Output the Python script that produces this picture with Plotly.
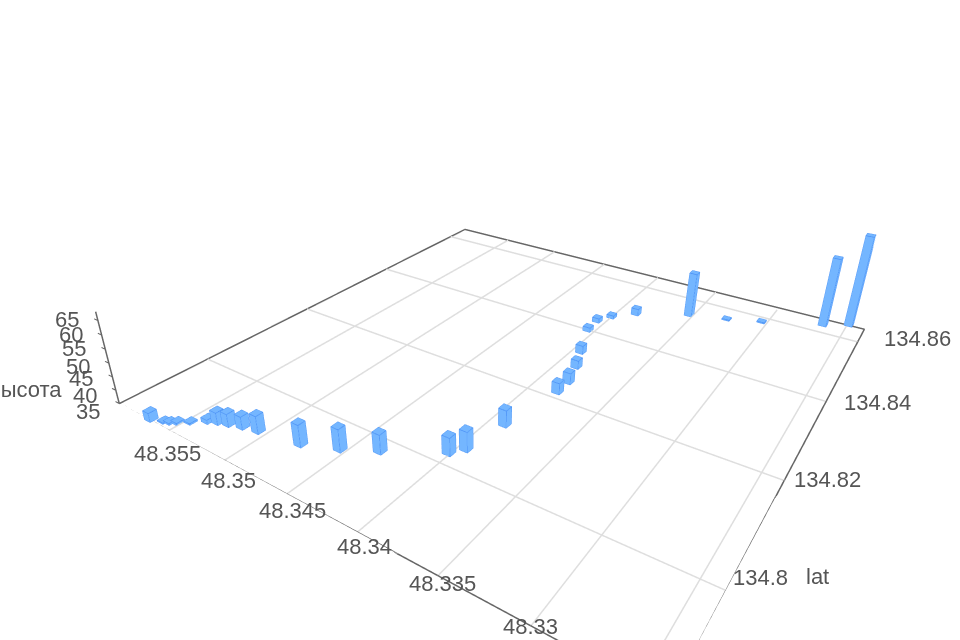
import plotly.graph_objects as go

lon = [48.3569, 48.3561, 48.3557, 48.3553, 48.3547, 48.3539, 48.3533, 48.3526, 48.3517, 48.3506,
       48.3476, 48.3454, 48.3434, 48.3401, 48.3395, 48.339, 48.3382, 48.3382, 48.3387, 48.3394,
       48.3405, 48.3406, 48.34, 48.3387, 48.3353, 48.3327, 48.3304, 48.3265, 48.3249]
lat = [134.786, 134.7867, 134.787, 134.7875, 134.7885, 134.7899, 134.7905, 134.791, 134.7916, 134.7921,
       134.7932, 134.7952, 134.7977, 134.8022, 134.804, 134.811, 134.8216, 134.8247, 134.829, 134.8332,
       134.84, 134.8436, 134.8462, 134.8495, 134.8541, 134.8561, 134.8584, 134.8629, 134.8652]
alt = [38.25, 35.4, 35.6, 35.75, 35.5, 36.5, 39.5, 39.75, 39.75, 41.5,
       43, 43.25, 42, 41.5, 42.25, 41.25, 39.25, 39.25, 38.25, 38.25,
       36.75, 36.75, 36.25, 37.75, 53, 35.4, 35.4, 62.75, 71.5]
xticks = [48.355, 48.35, 48.345, 48.34, 48.335, 48.33, 48.325]
yticks = [134.8, 134.82, 134.84, 134.86]
zticks = [35, 40, 45, 50, 55, 60, 65]
xlabels = ["48.355", "48.35", "48.345", "48.34", "48.335", "48.33", "48.325"]
ylabels = ["134.8", "134.82", "134.84", "134.86"]
zlabels = ["35", "40", "45", "50", "55", "60", "65"]
xmin, xmax, ymin, ymax, zmin, zmax, ztop = 48.3238, 48.36, 134.7857, 134.865, 35, 72, 68

pad_x, pad_y, pad_z = .0006, .0012, .3
dx, dy = 0.00055, 0.0012
vx, vy, vz, I, J, K, ex, ey, ez = [], [], [], [], [], [], [], [], []
faces = [(0, 1, 2), (0, 2, 3), (4, 5, 6), (4, 6, 7), (0, 1, 5), (0, 5, 4), (1, 2, 6), (1, 6, 5), (2, 3, 7), (2, 7, 6), (3, 0, 4), (3, 4, 7)]
for x, y, z in zip(lon, lat, alt):
    n = len(vx)
    xs = [x - dx / 2, x + dx / 2, x + dx / 2, x - dx / 2] * 2
    ys = [y - dy / 2, y - dy / 2, y + dy / 2, y + dy / 2] * 2
    zs = [zmin] * 4 + [z] * 4
    vx += xs; vy += ys; vz += zs
    for a, b, c in faces:
        I.append(n + a); J.append(n + b); K.append(n + c)
    for path in [(0, 1, 2, 3, 0, 4, 5, 6, 7, 4), (1, 5), (2, 6), (3, 7)]:
        ex += [xs[q] for q in path] + [None]
        ey += [ys[q] for q in path] + [None]
        ez += [zs[q] for q in path] + [None]

gx, gy, gz = [], [], []
for t in xticks:
    gx += [t, t, None]; gy += [ymin, ymax, None]; gz += [zmin, zmin, None]
for t in yticks:
    gx += [xmin, xmax, None]; gy += [t, t, None]; gz += [zmin, zmin, None]
tx, ty, tz = [], [], []
for t in zticks:
    tx += [xmax, xmax + .0004, None]; ty += [ymin, ymin, None]; tz += [t, t, None]

fig = go.Figure()
fig.add_trace(go.Scatter3d(x=gx, y=gy, z=gz, mode="lines", line=dict(color="#dedede", width=3), hoverinfo="skip"))
fig.add_trace(go.Scatter3d(x=[xmax, xmax, xmin, xmin, xmax], y=[ymin, ymax, ymax, ymin, ymin], z=[zmin] * 5, mode="lines", line=dict(color="#666666", width=3), hoverinfo="skip"))
fig.add_trace(go.Scatter3d(x=[xmax, xmax], y=[ymin, ymin], z=[zmin, ztop], mode="lines", line=dict(color="#666666", width=3), hoverinfo="skip"))
fig.add_trace(go.Scatter3d(x=tx, y=ty, z=tz, mode="lines", line=dict(color="#666666", width=2), hoverinfo="skip"))
fig.add_trace(go.Mesh3d(x=vx, y=vy, z=vz, i=I, j=J, k=K, color="#74b6ff", flatshading=True, lighting=dict(ambient=1, diffuse=0, specular=0), hoverinfo="skip"))
fig.add_trace(go.Scatter3d(x=ex, y=ey, z=ez, mode="lines", line=dict(color="#4a90f5", width=1.5), hoverinfo="skip"))

font = dict(size=22, family="Liberation Sans", color="#555555")
axis = dict(showgrid=False, showbackground=False, zeroline=False, showspikes=False, showticklabels=False, ticks="", showline=False, title=dict(text=""))
xnudge = [(-1, -23), (4, -20), (6, -17), (7, -14), (4, -8), (0, -1), (0, -1)]
ynudge = [(35, 13), (43, 1), (51, -1), (60, 3)]
znudge = [(-31, -8), (-31, -5), (-31, -2), (-31, -3), (-31, 1), (-31, 1), (-31, 1)]
ann = [dict(x=t, y=ymin, z=zmin, text=s, xshift=n[0], yshift=n[1]) for t, s, n in zip(xticks, xlabels, xnudge)]
ann += [dict(x=xmin, y=t, z=zmin, text=s, xshift=n[0], yshift=n[1]) for t, s, n in zip(yticks, ylabels, ynudge)]
ann += [dict(x=xmax, y=ymin, z=t, text=s, xshift=n[0], yshift=n[1]) for t, s, n in zip(zticks, zlabels, znudge)]
ann += [dict(x=xmin, y=134.8, z=zmin, text="lat", xshift=92, yshift=14),
        dict(x=xmax, y=ymin, z=zmin, text="высота", xanchor="right", xshift=-55, yshift=14)]
for d in ann:
    d.update(showarrow=False, font=font)

fig.update_layout(
    width=960, height=640, autosize=False, margin=dict(l=0, r=0, t=0, b=0), paper_bgcolor="white", showlegend=False,
    scene=dict(
        xaxis=dict(axis, range=[xmax + pad_x, xmin - pad_x], tickvals=xticks),
        yaxis=dict(axis, range=[ymin - pad_y, ymax + pad_y], tickvals=yticks),
        zaxis=dict(axis, range=[zmin - pad_z, zmax], tickvals=zticks),
        annotations=ann, hovermode=False,
        aspectmode="manual", aspectratio=dict(x=1, y=1.0187, z=0.19406),
        camera=dict(eye=dict(x=0.6244, y=-1.0397, z=0.6223), center=dict(x=-0.0624, y=-0.0465, z=-0.0053), up=dict(x=0, y=0, z=1))))
fig.write_html("out.html", config={"displayModeBar": False}, post_script="document.body.style.margin='0';")
